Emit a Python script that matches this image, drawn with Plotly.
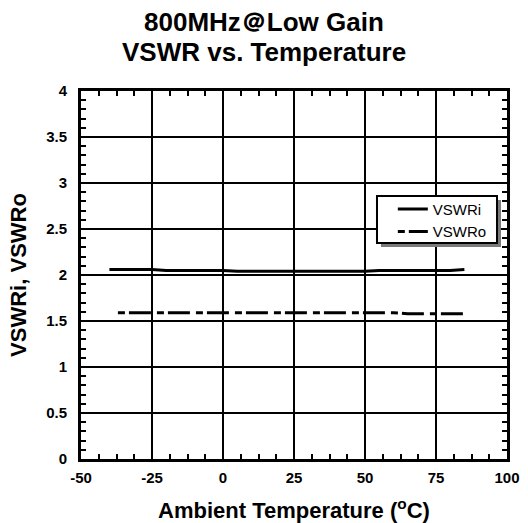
import plotly.graph_objects as go

temp_i = [-40, -25, -20, 0, 5, 50, 55, 80, 85]
vswr_i = [2.06, 2.06, 2.05, 2.05, 2.04, 2.04, 2.05, 2.05, 2.06]
temp_o = [-37, -25, 0, 25, 50, 60, 65, 75, 85]
vswr_o = [1.59, 1.59, 1.59, 1.59, 1.59, 1.59, 1.58, 1.58, 1.58]

x_ticks = [-50, -25, 0, 25, 50, 75, 100]
y_ticks = [0, 0.5, 1, 1.5, 2, 2.5, 3, 3.5, 4]
y_labels = ["0", "0.5", "1", "1.5", "2", "2.5", "3", "3.5", "4"]
title_lines = ["800MHz＠Low Gain", "VSWR vs. Temperature"]

FONT = "Liberation Sans, Arial, sans-serif"

fig = go.Figure()
fig.add_trace(go.Scatter(x=temp_i, y=vswr_i, mode="lines", name="VSWRi",
                         line=dict(color="black", width=3)))
fig.add_trace(go.Scatter(x=temp_o, y=vswr_o, mode="lines", name="VSWRo",
                         line=dict(color="black", width=3, dash="7px,4px,22px,6px")))

# legend box + shadow
lx0, lx1, ly0, ly1 = 0.6948, 0.9765, 0.587, 0.7147
dx, dy = 4 / 426, 4 / 368
fig.add_shape(type="rect", xref="paper", yref="paper",
              x0=lx0 + dx, x1=lx1 + dx, y0=ly0 - dy, y1=ly1 - dy,
              fillcolor="#7a7a7a", line=dict(width=0), layer="above")
fig.add_shape(type="rect", xref="paper", yref="paper",
              x0=lx0, x1=lx1, y0=ly0, y1=ly1,
              fillcolor="white", line=dict(color="black", width=2), layer="above")

# two-line title
for text, yp in zip(title_lines, [1.1875, 1.106]):
    fig.add_annotation(text=text, xref="paper", yref="paper", x=0.43, y=yp,
                       xanchor="center", yanchor="middle", showarrow=False,
                       font=dict(family=FONT, size=26, color="black", weight="bold"))

axis_common = dict(
    showline=True, linecolor="black", linewidth=3, mirror="ticks",
    showgrid=True, gridcolor="black", gridwidth=2,
    ticks="inside", ticklen=6, tickwidth=2, tickcolor="black",
    zeroline=False, automargin=False,
    tickfont=dict(family=FONT, size=15, color="black", weight="bold"),
)

fig.update_xaxes(range=[-50, 100], tickvals=x_ticks, ticktext=[str(v) for v in x_ticks],
                 title=dict(text="Ambient Temperature (<sup>o</sup>C)",
                            font=dict(family=FONT, size=22, color="black", weight="bold"),
                            standoff=22),
                 ticklabelstandoff=3,
                 minor=dict(dtick=6.25, tick0=-50, ticks="inside", ticklen=5, tickwidth=2,
                            tickcolor="black", showgrid=False),
                 **axis_common)
fig.update_yaxes(range=[0, 4], tickvals=y_ticks, ticktext=y_labels,
                 title=dict(text="VSWRi, VSWRo",
                            font=dict(family=FONT, size=22, color="black", weight="bold"),
                            standoff=14),
                 ticklabelstandoff=8,
                 minor=dict(dtick=0.1, tick0=0, ticks="inside", ticklen=5, tickwidth=2,
                            tickcolor="black", showgrid=False),
                 **axis_common)

fig.update_layout(
    width=528, height=523,
    margin=dict(l=81, r=21, t=91, b=64),
    paper_bgcolor="white", plot_bgcolor="white",
    showlegend=True,
    legend=dict(x=0.732, y=0.649, xanchor="left", yanchor="middle",
                bgcolor="rgba(0,0,0,0)", borderwidth=0,
                font=dict(family=FONT, size=15, color="black"),
                tracegroupgap=0),
)

fig.write_html("out.html", config={"displayModeBar": False})
with open("out.html", encoding="utf-8") as f:
    html = f.read()
html = html.replace("<body>", '<body style="margin:0;padding:0;">', 1)
with open("out.html", "w", encoding="utf-8") as f:
    f.write(html)
